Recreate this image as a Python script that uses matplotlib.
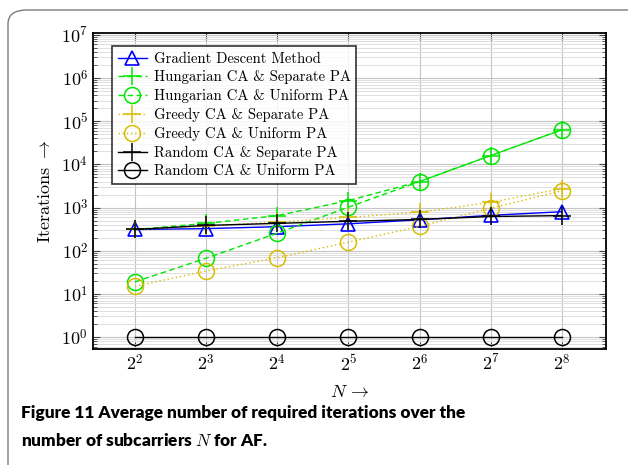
import matplotlib
matplotlib.use('Agg')
import matplotlib.pyplot as plt
import numpy as np
from matplotlib.patches import FancyBboxPatch
from matplotlib.ticker import LogLocator, FixedLocator, NullFormatter

plt.rcParams['mathtext.fontset'] = 'cm'
plt.rcParams['font.family'] = ['DejaVu Serif']

# subcarrier exponents, N = 2^k
exps = [2, 3, 4, 5, 6, 7, 8]
N = [2 ** k for k in exps]

grad_descent = [310, 325, 360, 420, 520, 660, 800]
hung_sep = [310, 430, 650, 1450, 4000, 16000, 63000]
hung_uni = [19, 67, 255, 1020, 4000, 16000, 63000]
greedy_sep = [310, 370, 460, 590, 780, 1320, 2750]
greedy_uni = [15, 34, 69, 158, 365, 960, 2450]
rand_sep = [310, 385, 430, 480, 530, 620, 650]
rand_uni = [1, 1, 1, 1, 1, 1, 1]

labels = ['Gradient Descent Method', 'Hungarian CA & Separate PA',
          'Hungarian CA & Uniform PA', 'Greedy CA & Separate PA',
          'Greedy CA & Uniform PA', 'Random CA & Separate PA',
          'Random CA & Uniform PA']

blue = '#0000ff'
green = '#00e600'
yellow = '#d8bc00'

fig = plt.figure(figsize=(6.28, 4.65), dpi=100)

# page frame around the figure
frame = FancyBboxPatch((8 / 628, -0.2), 1.2, 1.2 - 10 / 465,
                       boxstyle='round,pad=0,rounding_size=0.03',
                       transform=fig.transFigure, fill=False,
                       edgecolor='#7a7a7a', linewidth=1.0, clip_on=False)
fig.patches.append(frame)

ax = fig.add_axes([93 / 628, 1 - 349 / 465, (606 - 93) / 628, (349 - 33) / 465])

lw = 1.0
ax.plot(N, grad_descent, color=blue, lw=lw, marker='^', ms=10, mfc='none',
        mew=1.2, label=labels[0])
ax.plot(N, hung_sep, color=green, lw=lw, ls=(0, (4, 2.5)), marker='+', ms=13,
        mew=1.1, label=labels[1])
ax.plot(N, hung_uni, color=green, lw=lw, ls=(0, (4, 2.5)), marker='o', ms=11.5,
        mfc='none', mew=1.1, label=labels[2])
ax.plot(N, greedy_sep, color=yellow, lw=lw, ls=(0, (1, 2)), marker='+', ms=13,
        mew=1.1, label=labels[3])
ax.plot(N, greedy_uni, color=yellow, lw=lw, ls=(0, (1, 2)), marker='o', ms=11.5,
        mfc='none', mew=1.1, label=labels[4])
ax.plot(N, rand_sep, color='black', lw=lw, marker='+', ms=13, mew=1.1,
        label=labels[5])
ax.plot(N, rand_uni, color='black', lw=lw, marker='o', ms=11.5, mfc='none',
        mew=1.1, label=labels[6])

ax.set_xscale('log', base=2)
ax.set_yscale('log')
ax.set_xlim(2 ** 1.41, 2 ** 8.62)
ax.set_ylim(0.53, 1.1e7)

ax.xaxis.set_major_locator(FixedLocator(N))
ax.set_xticklabels([r'$2^{%d}$' % k for k in exps])
ax.xaxis.set_minor_locator(FixedLocator([]))
ax.yaxis.set_major_locator(FixedLocator([10.0 ** k for k in range(8)]))
ax.set_yticklabels([r'$10^{%d}$' % k for k in range(8)])
ax.yaxis.set_minor_locator(LogLocator(base=10, subs=np.arange(2, 10), numticks=20))
ax.yaxis.set_minor_formatter(NullFormatter())

ax.grid(True, which='major', color='#c4c4c4', lw=0.8)
ax.grid(True, which='minor', axis='y', color='#dedede', lw=0.7)
ax.set_axisbelow(True)
ax.tick_params(which='both', direction='in', top=True, right=True,
               labelsize=13, color='#444444')
ax.tick_params(which='major', length=5)
ax.tick_params(which='minor', length=3)
for s in ax.spines.values():
    s.set_linewidth(1.3)

ax.set_xlabel(r'$N\,\rightarrow$', fontsize=13, labelpad=6)
ax.set_ylabel('Iterations' + r' $\rightarrow$', fontsize=13, labelpad=6,
              family='cmr10')

leg = ax.legend(loc='upper left', bbox_to_anchor=(0.022, 0.982),
                frameon=True, fancybox=False, edgecolor='black',
                handlelength=2.0, borderpad=0.4, labelspacing=0.32,
                handletextpad=0.45, prop={'family': 'cmr10', 'size': 10.6})
leg.get_frame().set_linewidth(1.2)

fig.text(21 / 628, 1 - 413 / 465,
         'Figure 11 Average number of required iterations over the',
         fontsize=12.4, fontweight='heavy', family='Lato', va='center')
fig.text(21 / 628, 1 - 440 / 465,
         r'number of subcarriers $N$ for AF.', fontsize=12.4,
         fontweight='heavy', family='Lato', va='center')

fig.savefig('out.png', dpi=100)
